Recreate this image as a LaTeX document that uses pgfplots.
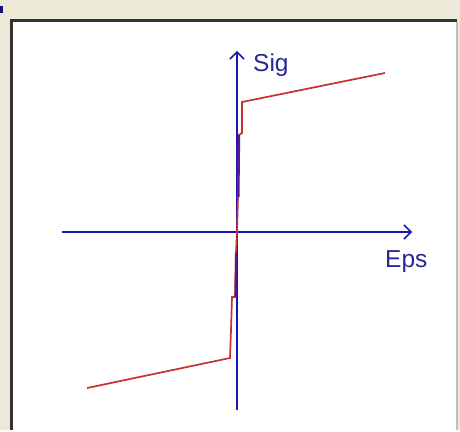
\documentclass[border=0pt]{standalone}
\usepackage{pgfplots}
\pgfplotsset{compat=1.18}
\usepackage{fontspec}
\setmainfont{Liberation Sans}
\usetikzlibrary{arrows.meta}

\definecolor{dlgface}{RGB}{236,233,216}
\definecolor{framedark}{RGB}{50,50,50}
\definecolor{framelight}{RGB}{190,190,190}
\definecolor{axisblue}{RGB}{24,24,176}
\definecolor{labelblue}{RGB}{40,40,150}
\definecolor{curvered}{RGB}{200,48,48}
\definecolor{overlap}{RGB}{92,24,140}

\begin{document}
\begin{tikzpicture}
\begin{axis}[
  scale only axis,
  width=460pt, height=430pt,
  xmin=-2.37, xmax=2.23,
  ymin=-1.98, ymax=2.32,
  axis lines=none,
  clip=false,
]
  % dialog face and the sunken white panel
  \fill[dlgface] (rel axis cs:0,0) rectangle (rel axis cs:1,1);
  \fill[axisblue!70!black] (axis cs:-2.37,2.26) rectangle (axis cs:-2.34,2.19);
  \fill[white] (axis cs:-2.26,-1.98) rectangle (axis cs:2.20,2.12);
  \draw[framedark, line width=2.6pt] (axis cs:-2.255,-1.98) -- (axis cs:-2.255,2.115) -- (axis cs:2.20,2.115);
  \draw[framelight, line width=1.4pt] (axis cs:2.20,2.10) -- (axis cs:2.20,-1.98);

  % coordinate axes
  \draw[axisblue, line width=1.7pt, -{Straight Barb[length=7pt,width=14pt,line width=1.5pt]}]
    (axis cs:-1.75,0) -- (axis cs:1.75,0);
  \draw[axisblue, line width=1.7pt, -{Straight Barb[length=7pt,width=14pt,line width=1.5pt]}]
    (axis cs:0,-1.78) -- (axis cs:0,1.81);
  \node[anchor=base west, text=labelblue, font=\fontsize{24.5}{28}\selectfont, inner sep=0pt]
    at (axis cs:0.16,1.60) {Sig};
  \node[anchor=base west, text=labelblue, font=\fontsize{24.5}{28}\selectfont, inner sep=0pt]
    at (axis cs:1.48,-0.36) {Eps};

  % stress-strain response
  \addplot[curvered, line width=1.7pt, line join=miter] coordinates {
    (-1.50,-1.56) (-0.07,-1.26) (-0.06,-0.98) (-0.05,-0.65) (-0.02,-0.65)
    (-0.01,-0.21) (0,0) (0.01,0.35) (0.02,0.97) (0.05,0.99) (0.05,1.30)
    (1.48,1.59)
  };
  % branches lying on the stress axis
  \addplot[overlap, line width=2.4pt] coordinates {(0.013,0.35) (0.02,0.97)};
  \addplot[overlap, line width=2.0pt] coordinates {(-0.01,-0.21) (-0.015,-0.65)};
\end{axis}
\end{tikzpicture}
\end{document}
